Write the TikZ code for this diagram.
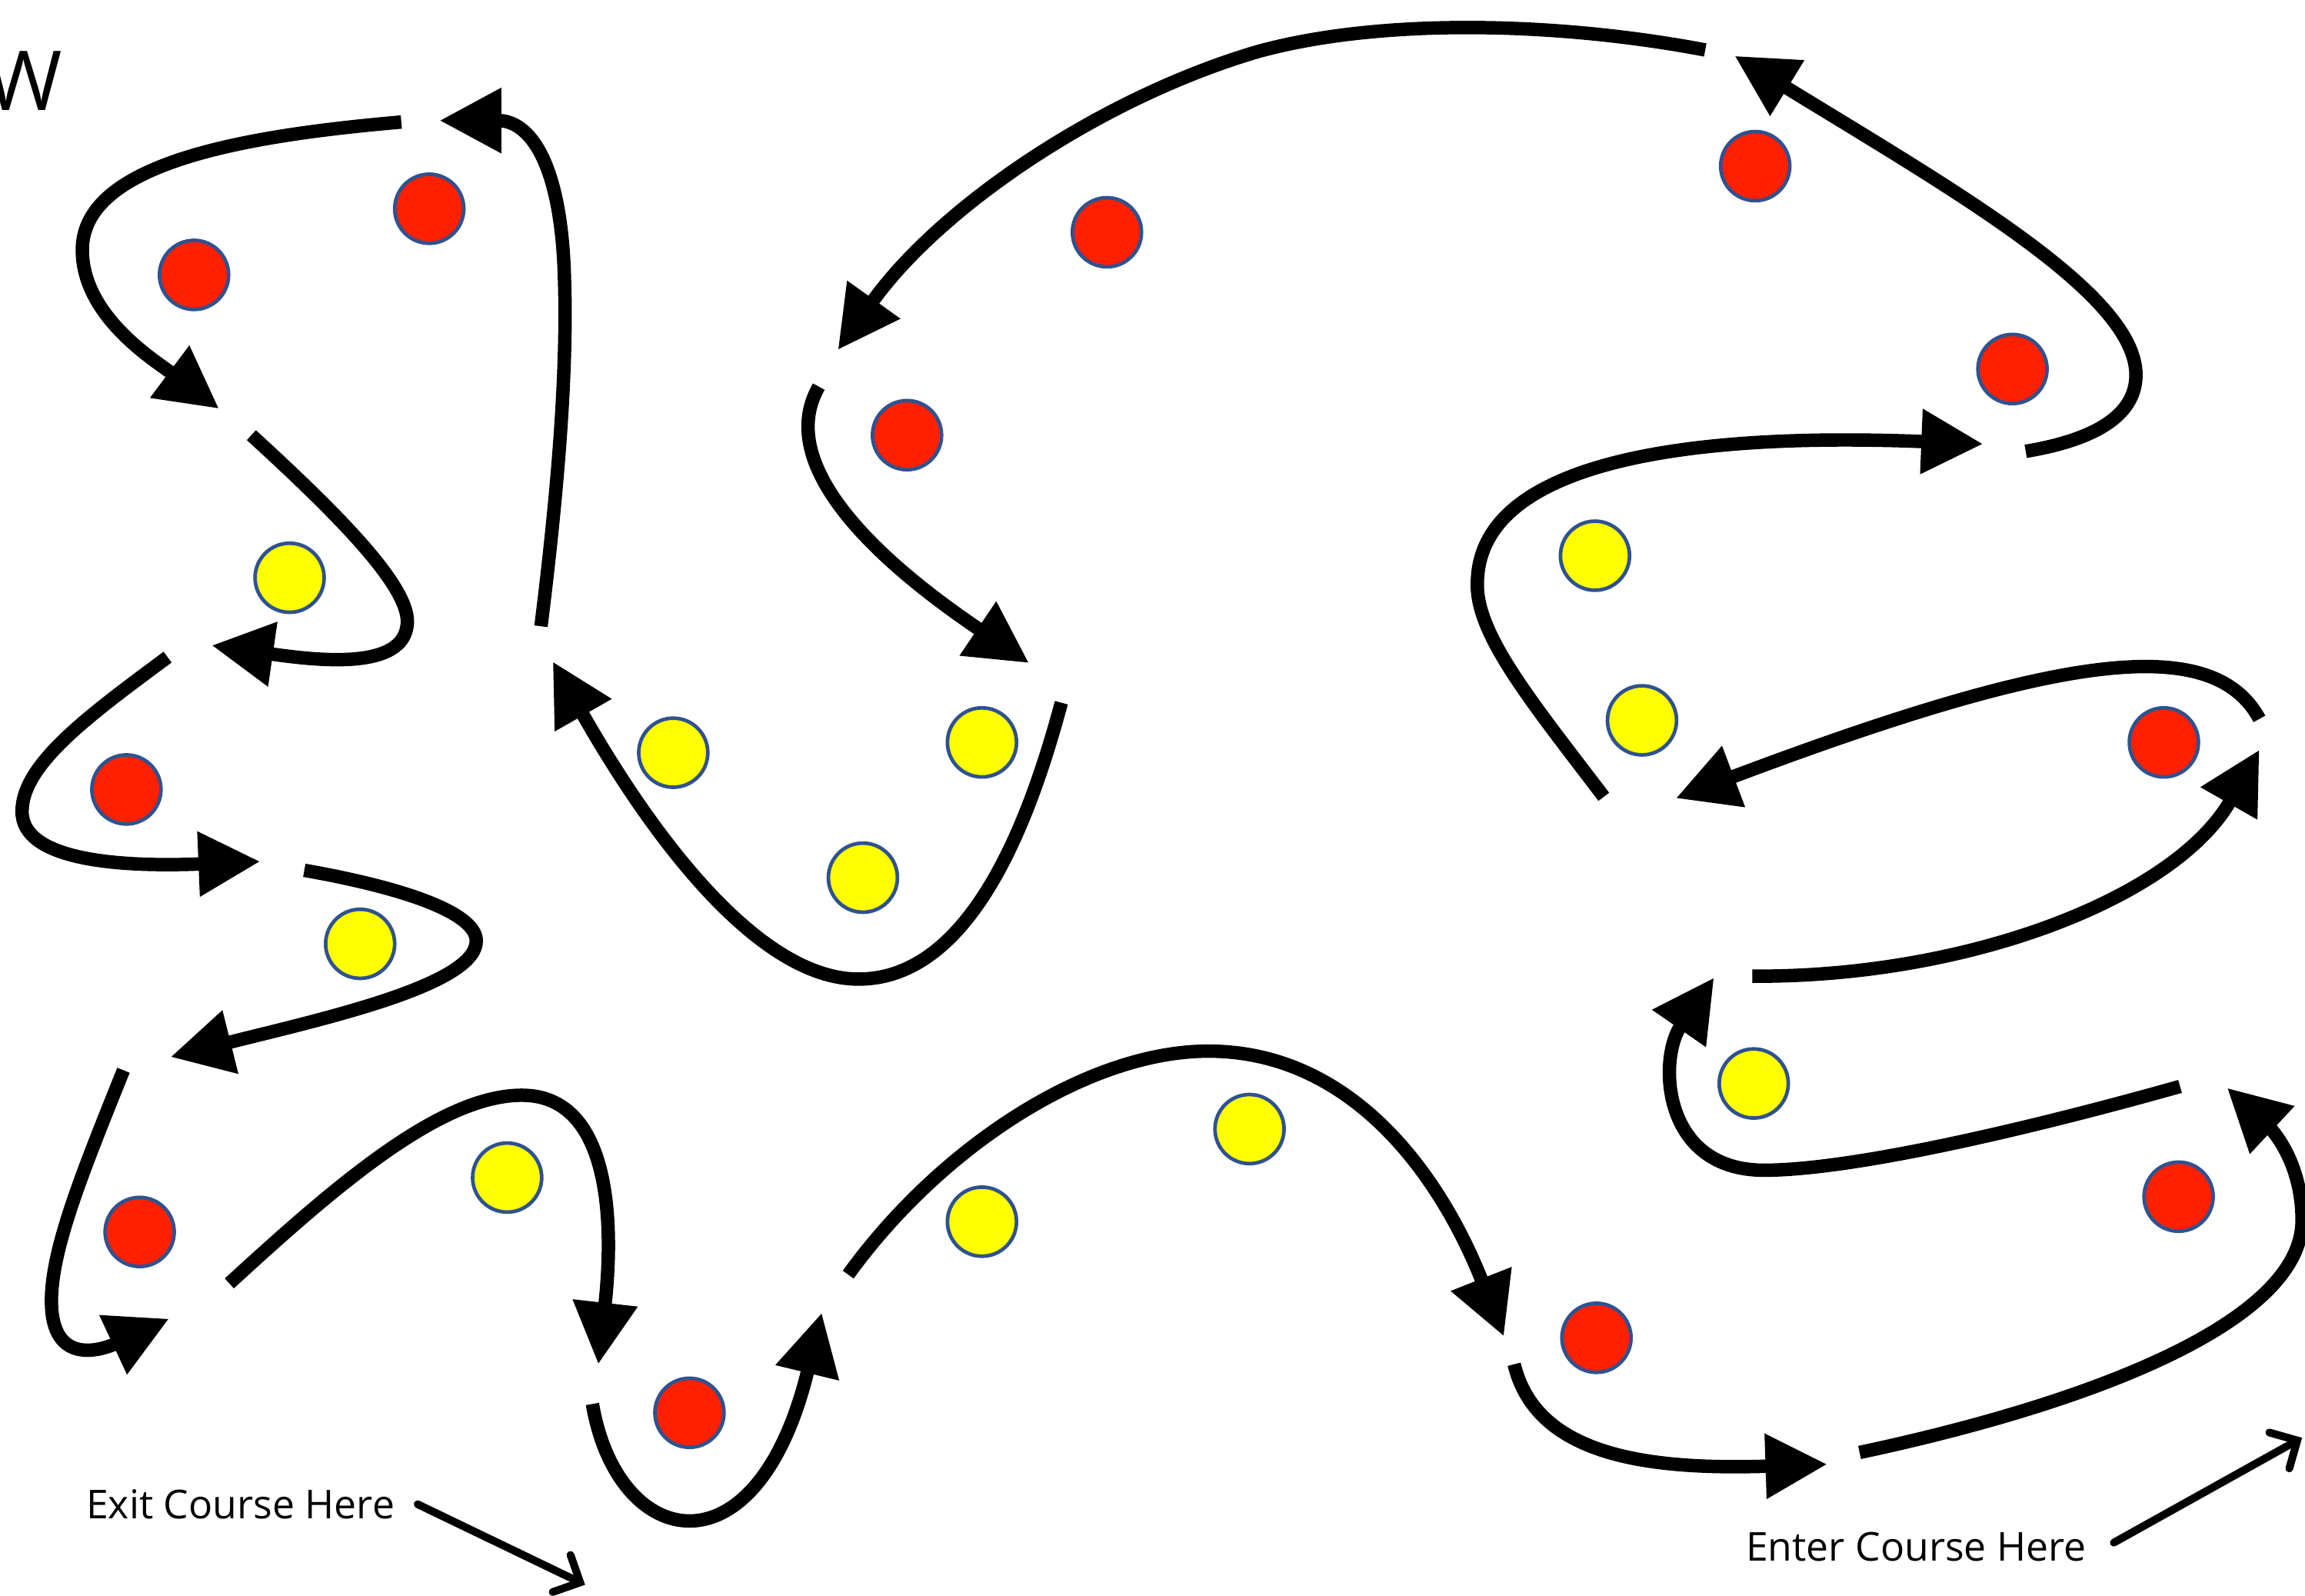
\documentclass[tikz,border=0pt]{standalone}
\usepackage{fontspec}
\setmainfont{Open Sans}
\usetikzlibrary{arrows.meta}
\definecolor{conered}{RGB}{255,32,0}
\definecolor{coneyellow}{RGB}{255,255,0}
\definecolor{conerim}{RGB}{47,82,143}
\begin{document}
\begin{tikzpicture}[x=0.1mm, y=-0.1mm,
    leg/.style={line width=2.6pt, -{Triangle[length=4.2mm,width=4.2mm]}},
    pointer/.style={line width=1.5pt, line cap=round,
      -{Straight Barb[length=1.4mm,width=2.8mm,line cap=round]}},
    cone/.style={circle, draw=conerim, line width=0.7pt, minimum size=4.7mm, inner sep=0pt},
    redcone/.style={cone, fill=conered},
    yellowcone/.style={cone, fill=coneyellow},
    signtext/.style={font=\fontsize{7.7}{9}\selectfont, inner sep=0pt}]
  \useasboundingbox (0,0) rectangle (1568,1085.6);

  % cones
  \node[redcone] (r1) at (292,142) {};
  \node[redcone] (r2) at (132,187) {};
  \node[redcone] (r3) at (753,158) {};
  \node[redcone] (r4) at (1194,113) {};
  \node[redcone] (r5) at (1369,251) {};
  \node[redcone] (r6) at (617,296) {};
  \node[redcone] (r7) at (86,537) {};
  \node[redcone] (r8) at (1472,505) {};
  \node[redcone] (r9) at (95,838) {};
  \node[redcone] (r10) at (469,961) {};
  \node[redcone] (r11) at (1086,910) {};
  \node[redcone] (r12) at (1482,814) {};
  \node[yellowcone] (y1) at (197,393) {};
  \node[yellowcone] (y2) at (458,512) {};
  \node[yellowcone] (y3) at (668,505) {};
  \node[yellowcone] (y4) at (587,597) {};
  \node[yellowcone] (y5) at (245,642) {};
  \node[yellowcone] (y6) at (1085,378) {};
  \node[yellowcone] (y7) at (1117,490) {};
  \node[yellowcone] (y8) at (345,801) {};
  \node[yellowcone] (y9) at (668,831) {};
  \node[yellowcone] (y10) at (850,768) {};
  \node[yellowcone] (y11) at (1193,737) {};

  % leg ends
  \coordinate (l1s) at (1265,988);  \coordinate (l1e) at (1515,740);
  \coordinate (l2s) at (1483,739);  \coordinate (l2e) at (1166,665);
  \coordinate (l3s) at (1192,664);  \coordinate (l3e) at (1537,510);
  \coordinate (l4s) at (1537,489);  \coordinate (l4e) at (1140,543);
  \coordinate (l5s) at (1091,542);  \coordinate (l5e) at (1349,302);
  \coordinate (l6s) at (1378,307);  \coordinate (l6e) at (1180,38);
  \coordinate (l7s) at (1160,34);   \coordinate (l7e) at (570,238);
  \coordinate (l8s) at (557,263);   \coordinate (l8e) at (700,451);
  \coordinate (l9s) at (722,478);   \coordinate (l9e) at (376,450);
  \coordinate (l10s) at (368,426);  \coordinate (l10e) at (299,82);
  \coordinate (l11s) at (273,83);   \coordinate (l11e) at (149,278);
  \coordinate (l12s) at (171,296);  \coordinate (l12e) at (144,439);
  \coordinate (l13s) at (114,447);  \coordinate (l13e) at (177,586);
  \coordinate (l14s) at (207,592);  \coordinate (l14e) at (116,719);
  \coordinate (l15s) at (84,728);   \coordinate (l15e) at (115,897);
  \coordinate (l16s) at (156,873);  \coordinate (l16e) at (407,928);
  \coordinate (l17s) at (403,955);  \coordinate (l17e) at (559,893);
  \coordinate (l18s) at (577,867);  \coordinate (l18e) at (1023,909);
  \coordinate (l19s) at (1030,928); \coordinate (l19e) at (1243,996);

  % course
  \draw[leg] (l1s) .. controls (1420,955) and (1566,900) .. (1566,830)
    .. controls (1566,790) and (1545,768) .. (l1e);
  \draw[leg] (l2s) .. controls (1380,768) and (1260,796) .. (1200,796)
    .. controls (1130,796) and (1128,720) .. (l2e);
  \draw[leg] (l3s) .. controls (1340,665) and (1480,610) .. (l3e);
  \draw[leg] (l4s) .. controls (1505,430) and (1400,445) .. (l4e);
  \draw[leg] (l5s) .. controls (1040,475) and (1003,430) .. (1005,395)
    .. controls (1008,300) and (1200,296) .. (l5e);
  \draw[leg] (l6s) .. controls (1420,300) and (1453,285) .. (1453,255)
    .. controls (1453,200) and (1330,130) .. (l6e);
  \draw[leg] (l7s) .. controls (1060,15) and (940,12) .. (856,35)
    .. controls (750,66) and (640,140) .. (l7e);
  \draw[leg] (l8s) .. controls (530,310) and (580,370) .. (l8e);
  \draw[leg] (l9s) .. controls (700,560) and (660,666) .. (584,666)
    .. controls (520,666) and (450,580) .. (l9e);
  \draw[leg] (l10s) .. controls (380,330) and (386,250) .. (384,190)
    .. controls (382,110) and (360,82) .. (l10e);
  \draw[leg] (l11s) .. controls (170,92) and (56,110) .. (56,170)
    .. controls (56,215) and (105,245) .. (l11e);
  \draw[leg] (l12s) .. controls (230,350) and (280,400) .. (277,425)
    .. controls (274,455) and (220,450) .. (l12e);
  \draw[leg] (l13s) .. controls (60,487) and (15,520) .. (15,552)
    .. controls (15,585) and (80,590) .. (l13e);
  \draw[leg] (l14s) .. controls (270,603) and (324,620) .. (324,640)
    .. controls (324,670) and (220,693) .. (l14e);
  \draw[leg] (l15s) .. controls (55,800) and (35,850) .. (35,885)
    .. controls (35,930) and (70,918) .. (l15e);
  \draw[leg] (l16s) .. controls (230,805) and (300,745) .. (355,745)
    .. controls (415,745) and (418,830) .. (l16e);
  \draw[leg] (l17s) .. controls (420,1055) and (515,1075) .. (l17e);
  \draw[leg] (l18s) .. controls (640,780) and (740,715) .. (822,715)
    .. controls (920,715) and (980,800) .. (l18e);
  \draw[leg] (l19s) .. controls (1045,990) and (1120,1000) .. (l19e);

  % signs
  \node[font=\fontsize{16}{18}\selectfont, anchor=base east, inner sep=0pt] (corner) at (43,75) {W};
  \node[signtext, anchor=base west] (exit) at (58,1033) {Exit Course Here};
  \node[signtext, anchor=base west] (enter) at (1187,1062) {Enter Course Here};
  \coordinate (exitpt) at (398,1078);
  \coordinate (enterpt) at (1566,978);
  \draw[pointer] ([xshift=1.5mm]exit.east) -- (exitpt);
  \draw[pointer] ([xshift=1.8mm,yshift=0.3mm]enter.east) -- (enterpt);
\end{tikzpicture}
\end{document}
